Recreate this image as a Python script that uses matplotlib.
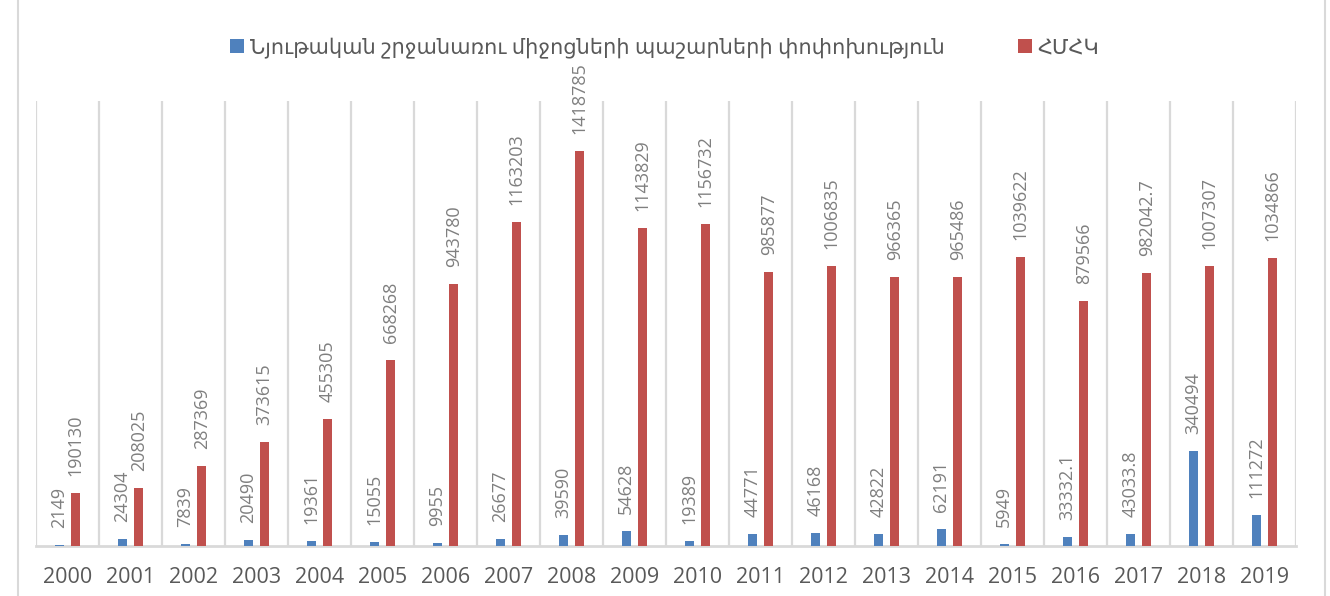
import numpy as np
import matplotlib
matplotlib.use("Agg")
import matplotlib.pyplot as plt
from matplotlib.lines import Line2D

# ============================================================
# DATA
# ============================================================

years = [str(y) for y in range(2000, 2020)]

inventories = [2149, 24304, 7839, 20490, 19361, 15055, 9955, 26677, 39590, 54628,
               19389, 44771, 46168, 42822, 62191, 5949, 33332.1, 43033.8, 340494, 111272]

gfcf = [190130, 208025, 287369, 373615, 455305, 668268, 943780, 1163203, 1418785, 1143829,
        1156732, 985877, 1006835, 966365, 965486, 1039622, 879566, 982042.7, 1007307, 1034866]

series_names = ["Նյութական շրջանառու միջոցների պաշարների փոփոխություն", "ՀՄՀԿ"]

# ============================================================
# STYLE
# ============================================================

plt.rcParams["font.family"] = ["Open Sans", "DejaVu Sans"]

BLUE = "#4f81bd"
RED = "#c0504d"
GRID = "#d9d9d9"
LABEL = "#7f7f7f"
TICK = "#595959"


def fmt(v):
    return ("%.1f" % v).rstrip("0").rstrip(".")


# ============================================================
# PLOT
# ============================================================

fig = plt.figure(figsize=(13.3, 5.96), dpi=100)
ax = fig.add_axes([36 / 1330, 50 / 596, 1260 / 1330, 445 / 596])

x = np.arange(len(years))
w = 0.145
off = 0.13

b1 = ax.bar(x - off, inventories, w, color=BLUE, label=series_names[0], zorder=3)
b2 = ax.bar(x + off, gfcf, w, color=RED, label=series_names[1], zorder=3)

# data labels
for bars, vals in [(b1, inventories), (b2, gfcf)]:
    for rect, v in zip(bars, vals):
        ax.annotate(fmt(v), (rect.get_x() + rect.get_width() / 2, v),
                    xytext=(0, 17), textcoords="offset pixels",
                    rotation=90, ha="center", va="bottom",
                    fontsize=13, color=LABEL, clip_on=False, zorder=4)

ax.set_xlim(-0.5, len(years) - 0.5)
ax.set_ylim(0, 1600000)

# category separators
for b in np.arange(-0.5, len(years) + 0.5, 1):
    ax.axvline(b, color=GRID, lw=1.6, zorder=1)

ax.set_xticks(x)
ax.set_xticklabels(years, fontsize=15.5, color=TICK)
ax.tick_params(axis="x", length=0, pad=15)
ax.set_yticks([])
for s in ["top", "left", "right"]:
    ax.spines[s].set_visible(False)
ax.spines["bottom"].set_color(GRID)
ax.spines["bottom"].set_linewidth(2)

fig.legend(loc="center", bbox_to_anchor=(0.5, 1 - 48 / 596), ncol=2, frameon=False,
           fontsize=15, handlelength=0.65, handleheight=0.65, handletextpad=0.3,
           columnspacing=3.5, labelcolor=TICK)

# outer chart frame
for xf in [18 / 1330, 1325 / 1330]:
    fig.add_artist(Line2D([xf, xf], [0, 1], color=GRID, lw=1.5))

fig.savefig("out.png", dpi=100)
